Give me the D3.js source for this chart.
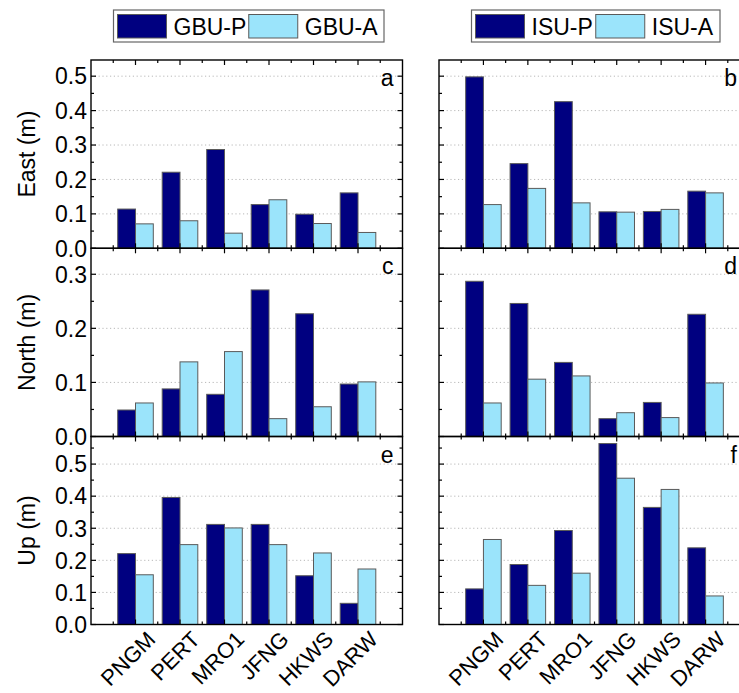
<!DOCTYPE html>
<html>
<head>
<meta charset="utf-8">
<script src="https://cdn.jsdelivr.net/npm/d3@7"></script>
<style>
  html, body { margin: 0; padding: 0; background: #fff; }
  svg { display: block; font-family: "Liberation Sans", Arial, sans-serif; }
</style>
</head>
<body>
<svg id="chart" width="739" height="693"></svg>
<script>
// Station names along the x axis
const stations = ["PNGM", "PERT", "MRO1", "JFNG", "HKWS", "DARW"];

// East component (m)
const eastGbuP = [0.114, 0.221, 0.287, 0.127, 0.099, 0.161];
const eastGbuA = [0.071, 0.080, 0.044, 0.141, 0.072, 0.046];
const eastIsuP = [0.498, 0.246, 0.426, 0.106, 0.107, 0.166];
const eastIsuA = [0.127, 0.174, 0.132, 0.105, 0.113, 0.161];

// North component (m)
const northGbuP = [0.049, 0.088, 0.078, 0.271, 0.227, 0.097];
const northGbuA = [0.062, 0.138, 0.157, 0.033, 0.055, 0.101];
const northIsuP = [0.287, 0.246, 0.137, 0.033, 0.063, 0.226];
const northIsuA = [0.062, 0.106, 0.112, 0.044, 0.035, 0.099];

// Up component (m)
const upGbuP = [0.221, 0.396, 0.312, 0.312, 0.152, 0.066];
const upGbuA = [0.155, 0.249, 0.301, 0.249, 0.223, 0.173];
const upIsuP = [0.111, 0.187, 0.293, 0.564, 0.365, 0.239];
const upIsuA = [0.265, 0.122, 0.160, 0.456, 0.421, 0.089];

// Axis extents and tick values per row
const eastDomain = [0, 0.547];
const northDomain = [0, 0.348];
const upDomain = [0, 0.586];
const eastTicks = [0, 0.1, 0.2, 0.3, 0.4, 0.5];
const northTicks = [0, 0.1, 0.2, 0.3];
const upTicks = [0, 0.1, 0.2, 0.3, 0.4, 0.5];

const legendLeft = ["GBU-P", "GBU-A"];
const legendRight = ["ISU-P", "ISU-A"];

const colorP = "#000080";
const colorA = "#9BE4FB";
const barStroke = "#5a5a5a";
const fontSize = 23;

const svg = d3.select("#chart");

const colX = [[91, 402.5], [439, 750]];
const rowY = [[60, 248.3], [248.3, 436.5], [436.5, 624.5]];

const rows = [
  { label: "East (m)", domain: eastDomain, ticks: eastTicks,
    panels: [{ p: eastGbuP, a: eastGbuA, tag: "a" }, { p: eastIsuP, a: eastIsuA, tag: "b" }] },
  { label: "North (m)", domain: northDomain, ticks: northTicks,
    panels: [{ p: northGbuP, a: northGbuA, tag: "c" }, { p: northIsuP, a: northIsuA, tag: "d" }] },
  { label: "Up (m)", domain: upDomain, ticks: upTicks,
    panels: [{ p: upGbuP, a: upGbuA, tag: "e" }, { p: upIsuP, a: upIsuA, tag: "f" }] }
];

const barW = 0.4;
const fmt = d3.format(".1f");

rows.forEach((row, ri) => {
  const [top, bottom] = rowY[ri];
  const y = d3.scaleLinear().domain(row.domain).range([bottom, top]);
  const minorY = d3.range(0.05, row.domain[1], 0.1);

  row.panels.forEach((panel, ci) => {
    const [left, right] = colX[ci];
    const x = d3.scaleLinear().domain([0, 7]).range([left, right]);
    const g = svg.append("g");

    // dotted grid at major ticks
    g.selectAll("line.grid").data(row.ticks.filter(t => t > 0)).join("line")
      .attr("x1", left).attr("x2", right)
      .attr("y1", d => y(d)).attr("y2", d => y(d))
      .attr("stroke", "#b8b8b8").attr("stroke-width", 1)
      .attr("stroke-dasharray", "1.2,2.6");

    // bars
    const idx = d3.range(stations.length);
    g.selectAll("rect.p").data(idx).join("rect")
      .attr("x", i => x(i + 1 - barW)).attr("width", i => x(i + 1) - x(i + 1 - barW))
      .attr("y", i => y(panel.p[i])).attr("height", i => y(0) - y(panel.p[i]))
      .attr("fill", colorP).attr("stroke", barStroke).attr("stroke-width", 1);
    g.selectAll("rect.a").data(idx).join("rect")
      .attr("x", i => x(i + 1)).attr("width", i => x(i + 1 + barW) - x(i + 1))
      .attr("y", i => y(panel.a[i])).attr("height", i => y(0) - y(panel.a[i]))
      .attr("fill", colorA).attr("stroke", barStroke).attr("stroke-width", 1);

    // frame
    g.append("rect").attr("x", left).attr("y", top)
      .attr("width", right - left).attr("height", bottom - top)
      .attr("fill", "none").attr("stroke", "#000").attr("stroke-width", 1.4);

    // x ticks (inward, top and bottom)
    const xMajor = d3.range(1, 7);
    const xMinor = d3.range(0.5, 7, 1);
    [[xMajor, 5], [xMinor, 3]].forEach(([vals, len]) => {
      g.selectAll(null).data(vals).join("line")
        .attr("x1", d => x(d)).attr("x2", d => x(d))
        .attr("y1", bottom).attr("y2", bottom - len)
        .attr("stroke", "#000").attr("stroke-width", 1.2);
      g.selectAll(null).data(vals).join("line")
        .attr("x1", d => x(d)).attr("x2", d => x(d))
        .attr("y1", top).attr("y2", top + len)
        .attr("stroke", "#000").attr("stroke-width", 1.2);
    });

    // y ticks (inward, left and right)
    [[row.ticks, 5], [minorY, 3]].forEach(([vals, len]) => {
      g.selectAll(null).data(vals).join("line")
        .attr("x1", left).attr("x2", left + len)
        .attr("y1", d => y(d)).attr("y2", d => y(d))
        .attr("stroke", "#000").attr("stroke-width", 1.2);
      g.selectAll(null).data(vals).join("line")
        .attr("x1", right).attr("x2", right - len)
        .attr("y1", d => y(d)).attr("y2", d => y(d))
        .attr("stroke", "#000").attr("stroke-width", 1.2);
    });

    // y tick labels on the left column only
    if (ci === 0) {
      g.selectAll("text.yt").data(row.ticks).join("text")
        .attr("x", left - 4).attr("y", d => y(d))
        .attr("dy", "0.36em").attr("text-anchor", "end")
        .attr("font-size", fontSize).attr("fill", "#000")
        .text(d => fmt(d));
    }

    // panel tag
    g.append("text").attr("x", Math.min(right - 9, 737)).attr("y", top + 26)
      .attr("text-anchor", "end").attr("font-size", fontSize).attr("fill", "#000")
      .text(panel.tag);

    // station names under the bottom row
    if (ri === rows.length - 1) {
      g.selectAll("text.xl").data(stations).join("text")
        .attr("transform", (d, i) => `translate(${x(i + 1) + 10},${bottom + 5}) rotate(-45)`)
        .attr("text-anchor", "end").attr("dy", "0.72em")
        .attr("font-size", 22).attr("fill", "#000")
        .text(d => d);
    }
  });

  // y axis title
  svg.append("text")
    .attr("transform", `translate(35,${(top + bottom) / 2}) rotate(-90)`)
    .attr("text-anchor", "middle").attr("font-size", fontSize).attr("fill", "#000")
    .text(row.label);
});

// legends
function legend(x0, names, w) {
  const g = svg.append("g");
  g.append("rect").attr("x", x0).attr("y", 10).attr("width", w).attr("height", 32)
    .attr("fill", "#fff").attr("stroke", "#666").attr("stroke-width", 1.2);
  const itemX = [x0 + 4, x0 + 4 + (w - 8) / 2];
  names.forEach((name, i) => {
    g.append("rect").attr("x", itemX[i]).attr("y", 14.5).attr("width", 49).attr("height", 23.5)
      .attr("fill", i === 0 ? colorP : colorA).attr("stroke", barStroke).attr("stroke-width", 1);
    g.append("text").attr("x", itemX[i] + 56).attr("y", 26.5).attr("dy", "0.36em")
      .attr("font-size", fontSize).attr("fill", "#000").text(name);
  });
}
legend(113.5, legendLeft, 270.5);
legend(471.5, legendRight, 248.5);
</script>
</body>
</html>
